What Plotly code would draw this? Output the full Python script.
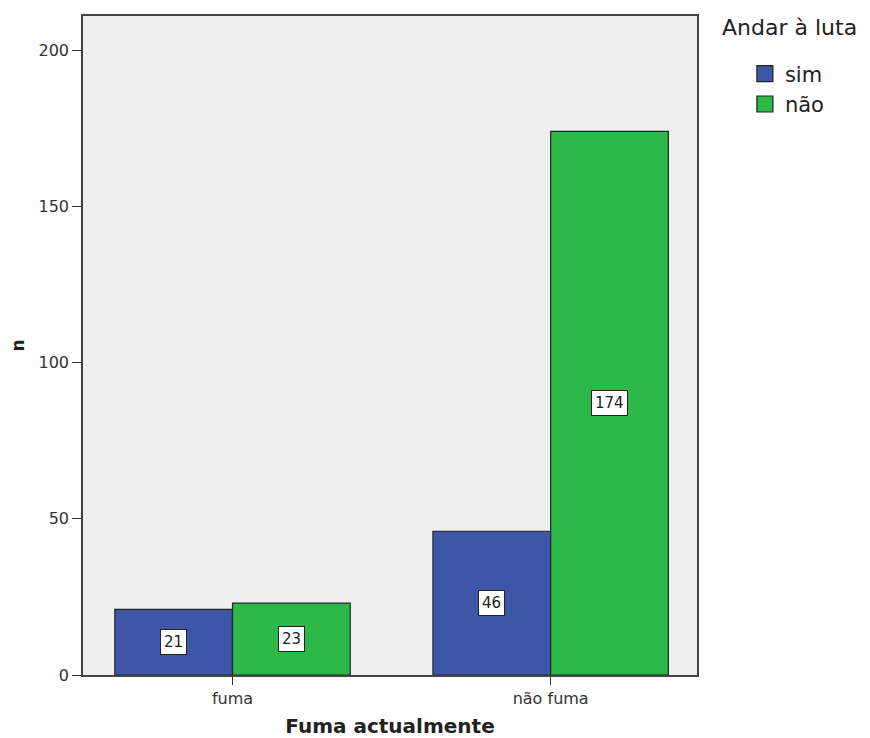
import plotly.graph_objects as go

categories = ["fuma", "não fuma"]
series_names = ["sim", "não"]
sim_values = [21, 46]
nao_values = [23, 174]
colors = ["#3d56a8", "#2eb84a"]
y_ticks = [0, 50, 100, 150, 200]
legend_title = "Andar à luta"

fig = go.Figure()
for name, vals, col in zip(series_names, [sim_values, nao_values], colors):
    fig.add_trace(go.Bar(
        x=categories, y=vals, name=name, showlegend=False,
        marker=dict(color=col, line=dict(color="#222222", width=1.2)),
    ))
# legend proxies with larger square swatches
for name, col in zip(series_names, colors):
    fig.add_trace(go.Scatter(
        x=[None], y=[None], mode="markers", name=name,
        marker=dict(symbol="square", size=16, color=col, line=dict(color="#222222", width=1.2)),
    ))

# value labels
offsets = [-0.185, 0.185]
annotations = []
for off, vals in zip(offsets, [sim_values, nao_values]):
    for i, v in enumerate(vals):
        annotations.append(dict(
            x=i + off, y=v / 2, xref="x", yref="y", text=str(v), showarrow=False,
            font=dict(family="DejaVu Sans", size=15, color="#222222"),
            bgcolor="white", bordercolor="#222222", borderwidth=1, borderpad=3,
        ))
annotations.append(dict(
    x=1.037, y=1.005, xref="paper", yref="paper", xanchor="left", yanchor="top",
    text=legend_title, showarrow=False,
    font=dict(family="DejaVu Sans", size=22, color="#222222"),
))

fig.update_layout(
    width=862, height=730,
    margin=dict(l=75, r=173, t=8, b=63),
    paper_bgcolor="white", plot_bgcolor="#efefef",
    barmode="group", bargap=0.26, bargroupgap=0,
    font=dict(family="DejaVu Sans", color="#333333"),
    annotations=annotations,
    legend=dict(
        x=1.078, y=0.943, xanchor="left", yanchor="top",
        font=dict(size=21, color="#222222"),
        tracegroupgap=0, itemwidth=30,
    ),
    xaxis=dict(
        type="category", range=[-0.47, 1.46], automargin=False,
        showline=True, linecolor="#444444", linewidth=1.5, mirror=True,
        ticks="outside", ticklen=8, tickcolor="#333333",
        tickfont=dict(size=16, color="#333333"),
        title=dict(text="<b>Fuma actualmente</b>", font=dict(size=20, color="#222222")),
        showgrid=False,
    ),
    yaxis=dict(
        range=[0, 210.9], tickvals=y_ticks, automargin=False,
        showline=True, linecolor="#444444", linewidth=1.5, mirror=True,
        ticks="outside", ticklen=9, tickcolor="#333333",
        tickfont=dict(size=16, color="#333333"),
        title=dict(text="<b>n</b>", font=dict(size=17, color="#222222")),
        showgrid=False, zeroline=False,
    ),
)

fig.write_html("out.html")
